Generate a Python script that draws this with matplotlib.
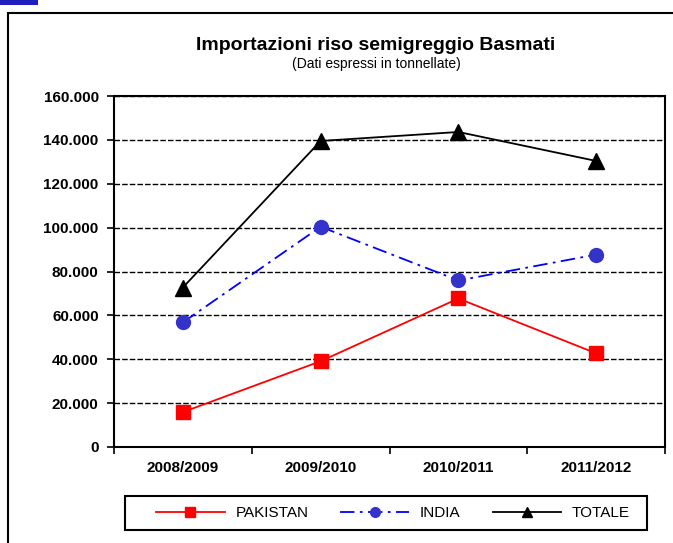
import numpy as np
import matplotlib.pyplot as plt
from matplotlib.lines import Line2D
from matplotlib.patches import Rectangle
from matplotlib.ticker import FuncFormatter

plt.rcParams['font.family'] = ['Liberation Sans', 'DejaVu Sans']

# data (tonnellate)
anni = ['2008/2009', '2009/2010', '2010/2011', '2011/2012']
pakistan = [15900, 39100, 67700, 42700]
india = [56800, 100400, 75900, 87700]
totale = [72700, 139500, 143600, 130400]

W, H = 673, 543
fig = plt.figure(figsize=(W / 100, H / 100), dpi=100)

# outer frame and small blue tab
fig.patches.append(Rectangle((8 / W, -0.1), 1.1, 1 - 13 / H + 0.1, transform=fig.transFigure,
                             fill=False, edgecolor='black', linewidth=1.5))
fig.patches.append(Rectangle((0, 1 - 5 / H), 38 / W, 5 / H, transform=fig.transFigure,
                             facecolor='#1f1fbf', edgecolor='none'))

ax = fig.add_axes([114 / W, 1 - 447 / H, (665 - 114) / W, (447 - 96) / H])
x = np.arange(len(anni))

ax.plot(x, pakistan, color='red', lw=1.3, marker='s', ms=10, mfc='red', mec='red', label='PAKISTAN')
ax.plot(x, india, color='blue', lw=1.3, ls=(0, (8, 3, 1.5, 3)), marker='o', ms=10,
        mfc='#3333cc', mec='#3333cc', label='INDIA')
ax.plot(x, totale, color='black', lw=1.3, marker='^', ms=11, mfc='black', mec='black', label='TOTALE')

ax.set_xlim(-0.5, len(anni) - 0.5)
ax.set_ylim(0, 160000)
ax.set_yticks(np.arange(0, 160001, 20000))
ax.yaxis.set_major_formatter(FuncFormatter(lambda v, p: f'{int(v):,}'.replace(',', '.')))
ax.set_xticks(x)
ax.set_xticklabels(anni)
ax.set_xticks(np.arange(-0.5, len(anni), 1), minor=True)
ax.tick_params(axis='x', which='major', length=0, pad=10)
ax.tick_params(axis='x', which='minor', length=5, width=1.2, direction='out')
ax.tick_params(axis='y', length=5, width=1.2, direction='out', pad=6)
for lab in ax.get_xticklabels() + ax.get_yticklabels():
    lab.set_fontweight('bold')
    lab.set_fontsize(11)

ax.grid(axis='y', color='black', ls=(0, (4, 1.5)), lw=1)
ax.set_axisbelow(True)
for s in ax.spines.values():
    s.set_linewidth(1.5)

fig.text(376 / W, 1 - 45 / H, 'Importazioni riso semigreggio Basmati', ha='center', va='center',
         fontsize=14, fontweight='bold')
fig.text(376 / W, 1 - 64 / H, '(Dati espressi in tonnellate)', ha='center', va='center', fontsize=10)

# legend box drawn separately (wider than the legend content)
fig.patches.append(Rectangle((125 / W, 1 - 530 / H), (647 - 125) / W, 34 / H, transform=fig.transFigure,
                             fill=False, edgecolor='black', linewidth=1.5))
handles = [Line2D([], [], color='red', lw=1.3, marker='s', ms=7),
           Line2D([], [], color='blue', lw=1.3, ls=(0, (8, 3, 1.5, 3)), marker='o', ms=7, mfc='#3333cc', mec='#3333cc'),
           Line2D([], [], color='black', lw=1.3, marker='^', ms=7)]
leg = fig.legend(handles, ['PAKISTAN', 'INDIA', 'TOTALE'], loc='center',
                 bbox_to_anchor=(393 / W, 1 - 513 / H), ncol=3, frameon=False,
                 fontsize=11, handlelength=4.5, columnspacing=2.1,
                 borderpad=0, borderaxespad=0, handletextpad=0.7)

fig.savefig('out.png', dpi=100)
